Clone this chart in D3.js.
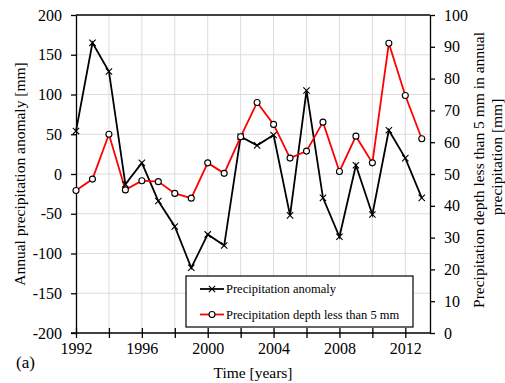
<!DOCTYPE html>
<html lang="en">
<head>
  <meta charset="utf-8" />
  <title>Precipitation anomaly</title>
  <script src="https://d3js.org/d3.v7.min.js"></script>
  <style>
    html, body { margin: 0; padding: 0; background: #fff; }
    svg { display: block; }
    .grid line { stroke: #dcdcdc; stroke-width: 1px; }
    .axis path, .axis line { stroke: #000; stroke-width: 1.3px; }
    .axis text { fill: #000; }
  </style>
</head>
<body>
  <svg id="chart" width="505" height="383"></svg>
  <script>
    // values
    const years = [1992, 1993, 1994, 1995, 1996, 1997, 1998, 1999, 2000, 2001, 2002,
                   2003, 2004, 2005, 2006, 2007, 2008, 2009, 2010, 2011, 2012, 2013];
    const anomaly = [54, 165, 129, -13, 14, -34, -66, -118, -76, -90, 47,
                     36, 49, -52, 105, -30, -79, 11, -51, 55, 20, -30];
    const depthBelow5 = [44.8, 48.4, 62.5, 45.0, 47.9, 47.6, 43.9, 42.4, 53.5, 50.2, 61.7,
                         72.5, 65.6, 55.0, 57.2, 66.3, 50.8, 61.9, 53.5, 91.1, 74.7, 61.1];
    const xTicks = [1992, 1996, 2000, 2004, 2008, 2012];
    const leftTicks = [-200, -150, -100, -50, 0, 50, 100, 150, 200];
    const rightTicks = [0, 10, 20, 30, 40, 50, 60, 70, 80, 90, 100];
    const seriesNames = ["Precipitation anomaly", "Precipitation depth less than 5 mm"];

    const serif = "Liberation Serif";
    const margin = { left: 76, right: 75, top: 15, bottom: 50 };
    const width = 505, height = 383;
    const svg = d3.select("#chart").attr("font-family", serif);

    const x = d3.scaleLinear().domain([1992, 2013.5]).range([margin.left, width - margin.right]);
    const yL = d3.scaleLinear().domain([-200, 200]).range([height - margin.bottom, margin.top]);
    const yR = d3.scaleLinear().domain([0, 100]).range([height - margin.bottom, margin.top]);

    // grid
    const grid = svg.append("g").attr("class", "grid");
    grid.selectAll(".gv").data(d3.range(1994, 2013, 2)).enter().append("line")
      .attr("x1", d => x(d)).attr("x2", d => x(d))
      .attr("y1", yL(-200)).attr("y2", yL(200));
    grid.selectAll(".gh").data(leftTicks.slice(1, -1)).enter().append("line")
      .attr("x1", x(1992)).attr("x2", x(2013.5))
      .attr("y1", d => yL(d)).attr("y2", d => yL(d));

    // top border
    svg.append("line")
      .attr("x1", x(1992)).attr("x2", x(2013.5))
      .attr("y1", yL(200)).attr("y2", yL(200))
      .attr("stroke", "#000").attr("stroke-width", 1.3);

    // axes
    const xAxis = svg.append("g").attr("class", "axis")
      .attr("transform", `translate(0,${yL(-200)})`)
      .call(d3.axisBottom(x).tickValues(d3.range(1992, 2013, 2)).tickSize(0)
        .tickFormat(d => xTicks.includes(d) ? String(d) : ""));
    xAxis.select(".domain").attr("d", `M${x(1992) - 5},0H${x(2013.5)}`);
    xAxis.selectAll(".tick line").attr("y1", -5).attr("y2", 5);
    xAxis.selectAll(".tick text").attr("dy", "0.71em").attr("y", 10);

    const lAxis = svg.append("g").attr("class", "axis")
      .attr("transform", `translate(${x(1992)},0)`)
      .call(d3.axisLeft(yL).tickValues(leftTicks).tickSize(5).tickPadding(9).tickSizeOuter(0)
        .tickFormat(d => String(d)));

    const rAxis = svg.append("g").attr("class", "axis")
      .attr("transform", `translate(${x(2013.5)},0)`)
      .call(d3.axisRight(yR).tickValues(rightTicks).tickSize(5).tickPadding(9).tickSizeOuter(0)
        .tickFormat(d => String(d)));

    svg.selectAll(".axis").attr("font-family", serif).attr("font-size", 16);

    // titles
    svg.append("text")
      .attr("transform", `translate(25,${(yL(200) + yL(-200)) / 2}) rotate(-90)`)
      .attr("text-anchor", "middle").attr("font-size", 15.5)
      .text("Annual precipitation anomaly [mm]");
    svg.append("text")
      .attr("transform", `translate(484,170) rotate(-90)`)
      .attr("text-anchor", "middle").attr("font-size", 15.5)
      .text("Precipitation depth less than 5 mm in annual");
    svg.append("text")
      .attr("transform", `translate(502,157) rotate(-90)`)
      .attr("text-anchor", "middle").attr("font-size", 15.5)
      .text("precipitation [mm]");
    svg.append("text")
      .attr("x", (x(1992) + x(2013.5)) / 2).attr("y", 378)
      .attr("text-anchor", "middle").attr("font-size", 15.5)
      .text("Time [years]");
    svg.append("text")
      .attr("x", 16).attr("y", 368).attr("font-size", 17).text("(a)");

    // series
    const lineL = d3.line().x((d, i) => x(years[i])).y(d => yL(d));
    const lineR = d3.line().x((d, i) => x(years[i])).y(d => yR(d));

    svg.append("path").datum(anomaly).attr("d", lineL)
      .attr("fill", "none").attr("stroke", "#000").attr("stroke-width", 1.8);
    svg.append("path").datum(depthBelow5).attr("d", lineR)
      .attr("fill", "none").attr("stroke", "#f00").attr("stroke-width", 1.8);

    const cross = d3.symbol().type(d3.symbolX).size(28);
    svg.selectAll(".mx").data(anomaly).enter().append("path")
      .attr("d", cross)
      .attr("transform", (d, i) => `translate(${x(years[i])},${yL(d)})`)
      .attr("fill", "none").attr("stroke", "#000").attr("stroke-width", 1.1);

    svg.selectAll(".mo").data(depthBelow5).enter().append("circle")
      .attr("cx", (d, i) => x(years[i])).attr("cy", d => yR(d)).attr("r", 3)
      .attr("fill", "#fff").attr("stroke", "#000").attr("stroke-width", 1.1);

    // legend
    const lg = svg.append("g").attr("transform", "translate(186,276)");
    lg.append("rect").attr("width", 227).attr("height", 51)
      .attr("fill", "#fff").attr("stroke", "#000").attr("stroke-width", 1.2);
    [0, 1].forEach(i => {
      const yy = 13 + i * 25.5;
      lg.append("line").attr("x1", 14).attr("x2", 38).attr("y1", yy).attr("y2", yy)
        .attr("stroke", i === 0 ? "#000" : "#f00").attr("stroke-width", 1.8);
      if (i === 0) {
        lg.append("path").attr("d", cross).attr("transform", `translate(26,${yy})`)
          .attr("fill", "none").attr("stroke", "#000").attr("stroke-width", 1.1);
      } else {
        lg.append("circle").attr("cx", 26).attr("cy", yy).attr("r", 3)
          .attr("fill", "#fff").attr("stroke", "#000").attr("stroke-width", 1.1);
      }
      lg.append("text").attr("x", 40).attr("y", yy).attr("dy", "0.33em")
        .attr("font-size", 12.5).text(seriesNames[i]);
    });
  </script>
</body>
</html>
